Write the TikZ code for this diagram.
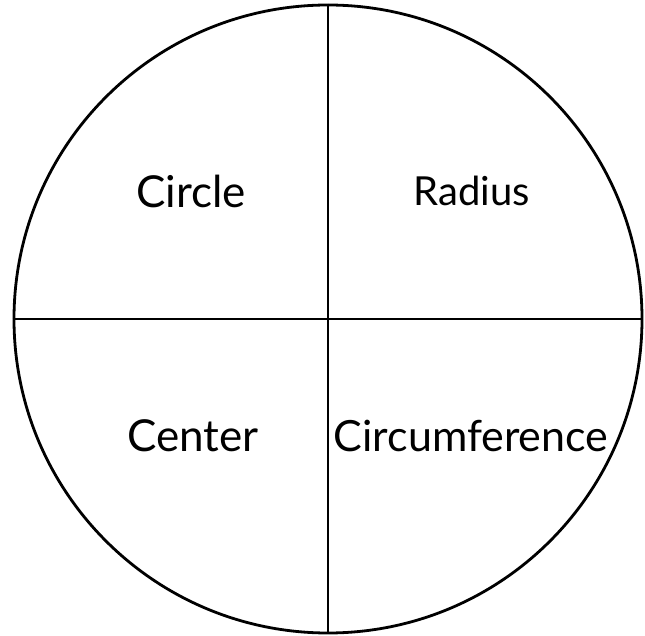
\documentclass[tikz,border=0pt]{standalone}
\usepackage{fontspec}
\setmainfont{Lato}
\begin{document}
\begin{tikzpicture}[x=1pt,y=1pt,
  lbl/.style={font=\fontsize{44}{48}\selectfont, inner sep=0pt, anchor=base},
  lblsmall/.style={font=\fontsize{40}{44}\selectfont, inner sep=0pt, anchor=base},
  lblwide/.style={font=\fontsize{43}{47}\selectfont, inner sep=0pt, anchor=base},
  ln/.style={line width=2.8pt}]
\useasboundingbox (0,0) rectangle (645,635);
\coordinate (c) at (328,316);
\node[ln, draw, circle, minimum size=628, inner sep=0pt] (circ) at (c) {};
\draw[ln] (circ.north) -- (circ.south);
\draw[ln] (circ.west) -- (circ.east);
\node[lbl] (t1) at (191,427) {Circle};
\node[lblsmall] (t2) at (472,429) {Radius};
\node[lbl] (t3) at (193,184) {Center};
\node[lblwide] (t4) at (471,184) {Circumference};
\end{tikzpicture}
\end{document}
